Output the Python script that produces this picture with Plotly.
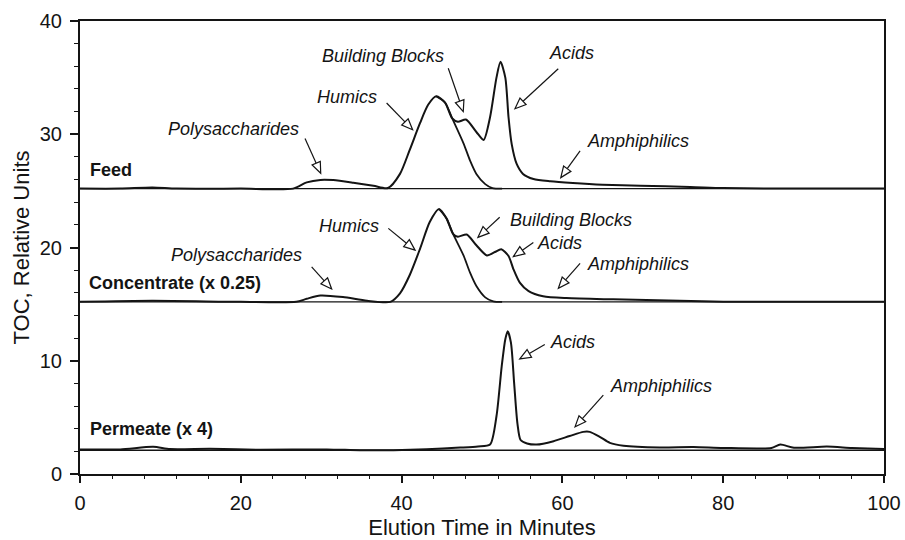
import math
import plotly.graph_objects as go

# ---------------------------------------------------------------
# LC-OCD chromatograms: TOC signal vs. elution time (minutes)
# ---------------------------------------------------------------

# Feed (offset trace)
feed_time = [0, 5, 9, 12, 20, 26.5, 28.2, 29.9, 31.5, 34.0, 36.5, 38.3, 39.8, 41.0, 42.3,
             43.3, 44.3, 45.4, 46.3, 47.0, 48.0, 49.3, 50.2, 51.0, 51.8, 52.3, 52.9, 53.3,
             53.7, 54.3, 55.1, 56.4, 58.5, 61.3, 65.0, 69.7, 75.9, 80, 90, 100]
feed_toc = [25.2, 25.2, 25.3, 25.2, 25.2, 25.2, 25.75, 25.97, 25.95, 25.72, 25.45, 25.25,
            26.5, 28.6, 31.0, 32.6, 33.35, 32.8, 31.4, 31.1, 31.3, 30.2, 29.5, 31.5, 35.0,
            36.4, 35.0, 31.5, 29.1, 27.4, 26.5, 26.05, 25.85, 25.7, 25.55, 25.45, 25.35,
            25.25, 25.2, 25.2]
feed_humics_time = [44.3, 45.4, 46.3, 47.7, 48.5, 49.3, 50.4, 51.3, 52.5]
feed_humics_toc = [33.35, 32.8, 31.4, 29.2, 27.7, 26.5, 25.6, 25.25, 25.2]
feed_baseline = 25.2

# Concentrate (x 0.25)
conc_time = [0, 9, 20, 26.9, 28.2, 29.9, 32.7, 35.7, 38.6, 39.8, 41.0, 42.3, 43.5, 44.65,
             45.6, 46.4, 47.0, 48.1, 49.3, 50.6, 51.6, 52.4, 53.3, 53.9, 54.7, 55.8, 57.6,
             60.5, 66.3, 74.6, 80, 90, 100]
conc_toc = [15.2, 15.3, 15.2, 15.2, 15.47, 15.76, 15.62, 15.3, 15.2, 15.95, 17.55, 19.9,
            22.25, 23.4, 22.55, 21.2, 20.95, 21.15, 20.2, 19.3, 19.6, 19.85, 19.25, 18.1,
            16.9, 16.15, 15.7, 15.53, 15.42, 15.3, 15.22, 15.2, 15.2]
conc_humics_time = [44.65, 45.6, 46.4, 47.7, 48.5, 49.3, 50.4, 51.4, 52.5]
conc_humics_toc = [23.4, 22.55, 21.2, 19.3, 17.8, 16.6, 15.6, 15.25, 15.2]
conc_baseline = 15.2

# Permeate (x 4)
perm_time = [0, 5, 9.1, 11.2, 16.2, 22.4, 30.7, 34.8, 39.0, 43.1, 47.3, 49.5, 51.0, 51.8,
             52.45, 52.9, 53.2, 53.6, 54.0, 54.4, 54.8, 55.6, 56.8, 58.9, 60.9, 62.6, 63.4,
             64.7, 65.9, 67.6, 72.1, 76.3, 80, 86, 87.1, 88.8, 92.9, 96, 100]
perm_toc = [2.17, 2.17, 2.4, 2.2, 2.22, 2.14, 2.17, 2.1, 2.1, 2.18, 2.33, 2.43, 2.6, 5.1,
            9.5, 11.9, 12.6, 11.6, 8.0, 4.5, 3.0, 2.7, 2.6, 2.9, 3.35, 3.72, 3.72, 3.26,
            2.75, 2.5, 2.35, 2.38, 2.3, 2.3, 2.6, 2.32, 2.42, 2.3, 2.2]
perm_baseline = 2.1

time_range = [0, 100]
x_ticks = [0, 20, 40, 60, 80, 100]
y_ticks = [0, 10, 20, 30, 40]

INK = "#141414"
FONT = "Liberation Sans, Arial, Helvetica, sans-serif"

fig = go.Figure()

def add_line(x, y, width):
    fig.add_trace(go.Scatter(
        x=x, y=y, mode="lines", hoverinfo="skip", showlegend=False,
        line=dict(color=INK, width=width, shape="spline", smoothing=0.7),
    ))

# baselines (also separate the three traces)
for level in (feed_baseline, conc_baseline, perm_baseline):
    fig.add_trace(go.Scatter(
        x=time_range, y=[level, level], mode="lines", hoverinfo="skip",
        showlegend=False, line=dict(color=INK, width=1.4),
    ))

add_line(feed_time, feed_toc, 2.0)
add_line(feed_humics_time, feed_humics_toc, 1.8)
add_line(conc_time, conc_toc, 2.0)
add_line(conc_humics_time, conc_humics_toc, 1.8)
add_line(perm_time, perm_toc, 2.0)

# trace names
panel_labels = [
    ("Feed", 1.0, 26.85),
    ("Concentrate (x 0.25)", 0.9, 16.85),
    ("Permeate (x 4)", 1.0, 4.0),
]
for text, x, y in panel_labels:
    fig.add_annotation(x=x, y=y, text=f"<b>{text}</b>", showarrow=False,
                       xanchor="left", yanchor="middle",
                       font=dict(family=FONT, size=18, color=INK))

# fraction labels: text centre (data coords)
fraction_labels = [
    ("Polysaccharides", 19.1, 30.5),
    ("Humics", 33.2, 33.3),
    ("Building Blocks", 37.7, 36.9),
    ("Acids", 61.1, 37.2),
    ("Amphiphilics", 69.4, 29.4),
    ("Humics", 33.5, 21.9),
    ("Polysaccharides", 19.5, 19.35),
    ("Building Blocks", 61.1, 22.4),
    ("Acids", 59.7, 20.4),
    ("Amphiphilics", 69.4, 18.55),
    ("Acids", 61.3, 11.7),
    ("Amphiphilics", 72.3, 7.8),
]
for text, x, y in fraction_labels:
    fig.add_annotation(x=x, y=y, text=f"<i>{text}</i>", showarrow=False,
                       xanchor="center", yanchor="middle",
                       font=dict(family=FONT, size=18, color=INK))

# pointer arrows: tip in data coords, tail as screen-pixel offset (right, down)
pointers = [
    (29.94, 26.56, -15.7, -34.7),
    (41.37, 30.40, -26.0, -26.7),
    (47.67, 32.00, -15.0, -43.4),
    (54.10, 32.25, 43.3, -40.0),
    (59.80, 26.17, 19.3, -26.7),
    (41.67, 19.77, -26.7, -21.7),
    (31.30, 16.34, -20.0, -22.0),
    (49.50, 20.90, 21.7, -20.0),
    (53.90, 19.20, 20.0, -14.0),
    (59.50, 16.40, 21.7, -25.0),
    (54.70, 10.16, 25.0, -14.4),
    (61.57, 4.16, 28.3, -31.7),
]
HEAD_LEN = 11.0
HEAD_HALF = 4.5
for tx, ty, dx, dy in pointers:
    # pixel-mode shape coordinates point up, screen offsets point down
    vx, vy = dx, -dy
    length = math.hypot(vx, vy)
    ux, uy = vx / length, vy / length
    bx, by = ux * HEAD_LEN, uy * HEAD_LEN
    px, py = -uy * HEAD_HALF, ux * HEAD_HALF
    common = dict(type="path", xref="x", yref="y", xsizemode="pixel", ysizemode="pixel",
                  xanchor=tx, yanchor=ty, layer="above")
    fig.add_shape(path=f"M{vx:.2f},{vy:.2f} L{bx:.2f},{by:.2f}",
                  line=dict(color=INK, width=1.2), **common)
    fig.add_shape(path=(f"M0,0 L{bx + px:.2f},{by + py:.2f} "
                        f"L{bx - px:.2f},{by - py:.2f} Z"),
                  fillcolor="white", line=dict(color=INK, width=1.2), **common)

axis_common = dict(
    showline=True, linecolor=INK, linewidth=2, mirror=True,
    showgrid=False, zeroline=False, ticks="outside", tickcolor=INK,
    tickfont=dict(family=FONT, size=20, color=INK),
)
fig.update_xaxes(
    range=time_range, tickvals=x_ticks, ticklen=7, tickwidth=1.5,
    ticklabelstandoff=3,
    minor=dict(dtick=4, ticks="outside", ticklen=3, tickcolor=INK, tickwidth=1),
    title=dict(text="Elution Time in Minutes", standoff=8,
               font=dict(family=FONT, size=22, color=INK)),
    **axis_common,
)
fig.update_yaxes(
    range=[0, 40], tickvals=y_ticks, ticklen=8, tickwidth=1.5,
    ticklabelstandoff=4,
    minor=dict(dtick=2, ticks="outside", ticklen=4, tickcolor=INK, tickwidth=1),
    title=dict(text="TOC, Relative Units", standoff=4,
               font=dict(family=FONT, size=22, color=INK)),
    **axis_common,
)
fig.update_layout(
    width=905, height=540,
    margin=dict(l=80, r=21, t=21, b=66, autoexpand=False),
    paper_bgcolor="white", plot_bgcolor="white",
)

fig.write_html("out.html")
